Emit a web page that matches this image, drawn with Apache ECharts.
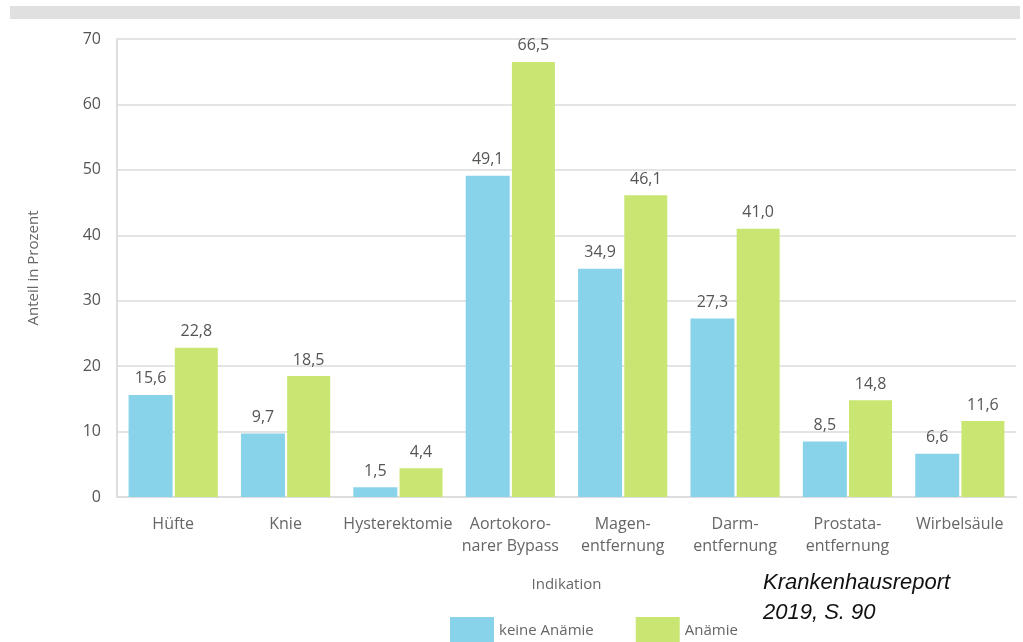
<!DOCTYPE html>
<html><head><meta charset="utf-8">
<script src="https://cdn.jsdelivr.net/npm/echarts@6/dist/echarts.min.js"></script>
<style>html,body{margin:0;padding:0;background:#fff}#c{width:1023px;height:642px}</style>
</head><body><div id="c"></div>
<script>
const categories = ['Hüfte','Knie','Hysterektomie','Aortokoro-\nnarer Bypass','Magen-\nentfernung','Darm-\nentfernung','Prostata-\nentfernung','Wirbelsäule'];
const keineAnaemie = [15.6, 9.7, 1.5, 49.1, 34.9, 27.3, 8.5, 6.6];
const anaemie = [22.8, 18.5, 4.4, 66.5, 46.1, 41.0, 14.8, 11.6];
const seriesNames = ['keine Anämie','Anämie'];
const yTicks = {min:0, max:70, interval:10};

const FONT = '"Open Sans", "DejaVu Sans", sans-serif';
const chart = echarts.init(document.getElementById('c'));
const fmt = p => p.value.toFixed(1).replace('.', ',');
chart.setOption({
  animation:false,
  textStyle:{fontFamily:FONT},
  graphic:[
    {type:'rect', shape:{x:10,y:6,width:1010,height:13}, style:{fill:'#dfe0df'}},
    {type:'text', left:763, top:568, style:{text:'Krankenhausreport\n2019, S. 90', font:'italic 22px "Liberation Sans", Arial, sans-serif', fill:'#111', lineHeight:30}}
  ],
  grid:{left:117, right:7, top:39, bottom:145},
  legend:{
    data:seriesNames, left:445, top:612, itemWidth:44, itemHeight:28, itemGap:42,
    icon:'rect', textStyle:{color:'#666', fontSize:15, fontFamily:FONT}
  },
  xAxis:{
    type:'category', data:categories,
    name:'Indikation', nameLocation:'middle', nameGap:80,
    nameTextStyle:{color:'#666', fontSize:15},
    axisLine:{lineStyle:{color:'#ddd', width:2}}, axisTick:{show:false},
    axisLabel:{color:'#666', fontSize:16, interval:0, margin:16, lineHeight:22}
  },
  yAxis:{
    type:'value', min:yTicks.min, max:yTicks.max, interval:yTicks.interval,
    name:'Anteil in Prozent', nameLocation:'middle', nameGap:76, nameRotate:90,
    nameTextStyle:{color:'#666', fontSize:15},
    axisLine:{show:true, lineStyle:{color:'#ddd', width:2}}, axisTick:{show:false},
    axisLabel:{color:'#555', fontSize:16, margin:16},
    splitLine:{lineStyle:{color:'#e4e4e4', width:2}}
  },
  series:[
    {name:seriesNames[0], type:'bar', data:keineAnaemie, barWidth:44, barGap:'5%',
     itemStyle:{color:'#88d3e9'},
     label:{show:true, position:'top', distance:8, color:'#555', fontSize:16, formatter:fmt}},
    {name:seriesNames[1], type:'bar', data:anaemie, barWidth:43,
     itemStyle:{color:'#c9e672'},
     label:{show:true, position:'top', distance:8, color:'#555', fontSize:16, formatter:fmt}}
  ]
});
</script></body></html>
